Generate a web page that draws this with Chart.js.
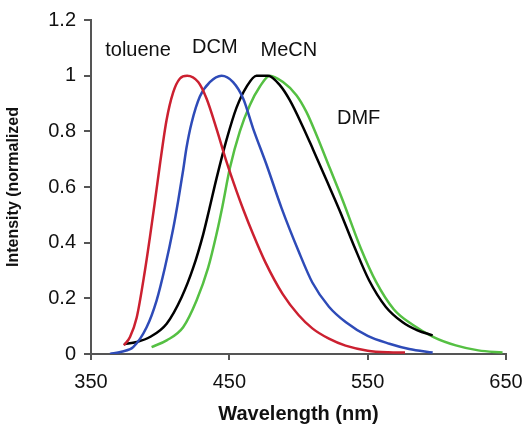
<!DOCTYPE html>
<html>
<head>
<meta charset="utf-8">
<script src="https://cdn.jsdelivr.net/npm/chart.js@4"></script>
<style>
  html, body { margin: 0; padding: 0; background: #fff; }
  #wrap { width: 526px; height: 430px; }
</style>
</head>
<body>
<div id="wrap"><canvas id="spectra"></canvas></div>
<script>
const xTicks = [350, 450, 550, 650];
const yTicks = [0, 0.2, 0.4, 0.6, 0.8, 1, 1.2];

const tolueneWl = [373.8, 378.2, 383, 389, 392.6, 396, 399.8, 404.6, 409.4, 414.3, 419.5, 427.5, 433.5, 440.7, 448, 455.2, 460, 467.2, 476, 488.6, 500, 510, 522, 534, 550, 565, 577];
const tolueneI  = [0.031, 0.061, 0.13, 0.3, 0.42, 0.54, 0.68, 0.84, 0.94, 0.99, 1, 0.977, 0.918, 0.81, 0.69, 0.585, 0.52, 0.43, 0.33, 0.215, 0.14, 0.092, 0.055, 0.03, 0.012, 0.006, 0.005];

const dcmWl = [363.7, 372, 380.5, 390.2, 397.4, 403.4, 409.4, 413, 416.6, 419, 422.7, 428.7, 435.9, 444.4, 452.7, 460, 467.2, 476.9, 487.7, 500, 510, 522, 534.3, 550, 565.7, 580, 597];
const dcmI  = [0, 0.008, 0.025, 0.096, 0.192, 0.31, 0.45, 0.55, 0.66, 0.74, 0.83, 0.925, 0.977, 1, 0.977, 0.918, 0.81, 0.68, 0.525, 0.37, 0.257, 0.17, 0.114, 0.065, 0.037, 0.018, 0.005];

const mecnWl = [373.8, 383, 392.6, 404.7, 415.5, 423.9, 431.1, 435.5, 440.7, 448, 455.2, 462.4, 469.6, 478, 486.5, 493.7, 503.3, 510.5, 520.2, 529.8, 540, 551, 563, 575.3, 586, 597];
const mecnI  = [0.035, 0.043, 0.061, 0.109, 0.204, 0.31, 0.43, 0.52, 0.63, 0.77, 0.885, 0.96, 1, 1, 0.966, 0.912, 0.815, 0.735, 0.625, 0.515, 0.39, 0.265, 0.17, 0.114, 0.085, 0.067];

const dmfWl = [393.8, 404.7, 416.6, 426.3, 434.7, 440.7, 445, 450.4, 457.6, 464.8, 472, 479.2, 488.8, 498.5, 505.7, 513, 522.6, 532.2, 545, 556, 569, 582.5, 598, 613.7, 630, 647.5];
const dmfI  = [0.025, 0.049, 0.096, 0.192, 0.31, 0.43, 0.53, 0.668, 0.8, 0.894, 0.96, 1, 0.977, 0.93, 0.87, 0.787, 0.668, 0.549, 0.38, 0.26, 0.16, 0.105, 0.06, 0.031, 0.013, 0.005];

const solventLabels = [
  { text: 'toluene', x: 384, y: 1.09 },
  { text: 'DCM', x: 439.5, y: 1.1 },
  { text: 'MeCN', x: 493, y: 1.09 },
  { text: 'DMF', x: 543.5, y: 0.845 }
];

const toPoints = (xs, ys) => xs.map((x, i) => ({ x: x, y: ys[i] }));

const curve = (label, xs, ys, color) => ({
  label: label,
  data: toPoints(xs, ys),
  borderColor: color,
  borderWidth: 2.5,
  pointRadius: 0,
  showLine: true,
  cubicInterpolationMode: 'monotone',
  fill: false
});

const labelPlugin = {
  id: 'solventLabels',
  afterDatasetsDraw(chart) {
    const { ctx, scales } = chart;
    ctx.save();
    ctx.font = '20px "Liberation Sans", Arial, sans-serif';
    ctx.fillStyle = '#111';
    ctx.textAlign = 'center';
    ctx.textBaseline = 'middle';
    solventLabels.forEach((l) => {
      ctx.fillText(l.text, scales.x.getPixelForValue(l.x), scales.y.getPixelForValue(l.y));
    });
    ctx.restore();
  }
};

const axisColor = '#555';
const tickFont = { family: '"Liberation Sans", Arial, sans-serif', size: 20 };

new Chart(document.querySelector('#spectra'), {
  type: 'scatter',
  data: {
    datasets: [
      curve('toluene', tolueneWl, tolueneI, '#cc2030'),
      curve('DCM', dcmWl, dcmI, '#2e4bb8'),
      curve('MeCN', mecnWl, mecnI, '#000000'),
      curve('DMF', dmfWl, dmfI, '#55c043')
    ]
  },
  options: {
    responsive: true,
    maintainAspectRatio: false,
    animation: false,
    layout: { padding: { top: 8, right: 20, bottom: 0, left: 0 } },
    plugins: {
      legend: { display: false },
      tooltip: { enabled: false }
    },
    scales: {
      x: {
        type: 'linear',
        min: 350,
        max: 650,
        afterBuildTicks: (scale) => { scale.ticks = xTicks.map((v) => ({ value: v })); },
        afterFit: (scale) => { scale.paddingLeft = 0; scale.paddingRight = 0; scale.height = 76; },
        ticks: { color: '#111', font: tickFont, padding: 10, maxRotation: 0 },
        grid: { drawOnChartArea: false, drawTicks: true, tickLength: 6, color: axisColor, lineWidth: 2 },
        border: { color: axisColor, width: 2 },
        title: {
          display: true,
          text: 'Wavelength (nm)',
          color: '#111',
          font: { family: '"Liberation Sans", Arial, sans-serif', size: 20, weight: 'bold' },
          padding: { top: 6 }
        }
      },
      y: {
        type: 'linear',
        min: 0,
        max: 1.2,
        afterBuildTicks: (scale) => { scale.ticks = yTicks.map((v) => ({ value: v })); },
        afterFit: (scale) => { scale.width = 91; },
        ticks: { color: '#111', font: tickFont, padding: 8, callback: (v) => String(Math.round(v * 10) / 10) },
        grid: { drawOnChartArea: false, drawTicks: true, tickLength: 7, color: axisColor, lineWidth: 2 },
        border: { color: axisColor, width: 2 },
        title: {
          display: true,
          text: 'Intensity (normalized',
          color: '#111',
          font: { family: '"Liberation Sans", Arial, sans-serif', size: 16, weight: 'bold' },
          padding: { bottom: 4 }
        }
      }
    }
  },
  plugins: [labelPlugin]
});
</script>
</body>
</html>
